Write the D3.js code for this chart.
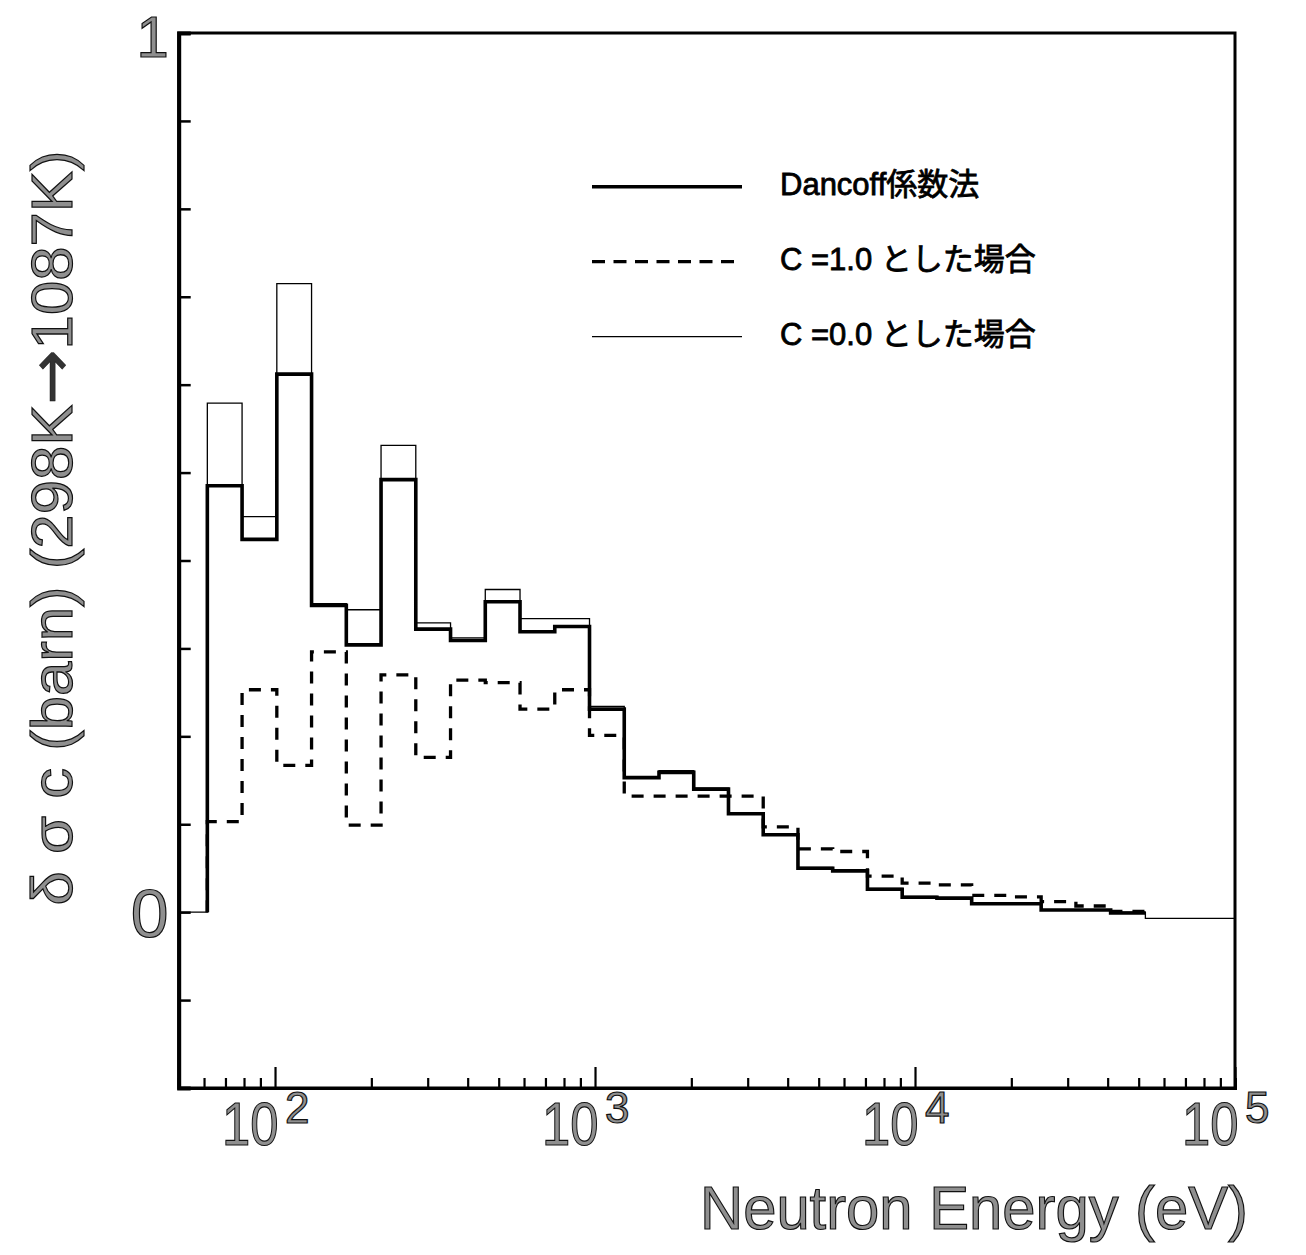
<!DOCTYPE html>
<html>
<head>
<meta charset="utf-8">
<script src="https://cdn.jsdelivr.net/npm/d3@7"></script>
<style>
  html, body { margin: 0; padding: 0; background: #fff; }
  svg { display: block; }
</style>
</head>
<body>
<svg id="chart" width="1306" height="1255"></svg>
<script>
// ---------- DATA ----------
// Energy group boundaries (eV), lethargy width 0.25; first bin starts at axis minimum 50 eV
const edges = [50, 61.44, 78.89, 101.30, 130.07, 167.02, 214.45, 275.36, 353.58, 454.00, 582.95,
  748.52, 961.12, 1234.1, 1584.6, 2034.7, 2612.6, 3354.6, 4307.4, 5530.8, 7101.7, 9118.8,
  11709, 15034, 19305, 24788, 31828, 40868, 52475, 67379, 86517, 100000];

// Dancoff factor method (thick solid)
const dancoff = [null, 0.485, 0.424, 0.612, 0.349, 0.304, 0.492, 0.322, 0.309, 0.353, 0.319,
  0.325, 0.231, 0.153, 0.159, 0.140, 0.112, 0.088, 0.050, 0.047, 0.026, 0.017, 0.016,
  0.0095, 0.0095, 0.0025, 0.0025, -0.001, null, null, null];

// C = 1.0 (dashed)
const c10 = [null, 0.103, 0.253, 0.167, 0.296, 0.099, 0.270, 0.176, 0.264, 0.261, 0.231,
  0.253, 0.201, 0.132, 0.132, 0.132, 0.132, 0.097, 0.072, 0.069, 0.041, 0.033, 0.031,
  0.019, 0.0175, 0.012, 0.007, 0.001, null, null, null];

// C = 0.0 (thin solid)
const c00 = [0, 0.579, 0.450, 0.715, 0.351, 0.344, 0.531, 0.329, 0.312, 0.367, 0.334,
  0.334, 0.234, 0.154, 0.161, 0.141, 0.113, 0.089, 0.051, 0.048, 0.027, 0.018, 0.016,
  0.010, 0.010, 0.003, 0.003, 0.000, -0.007, -0.007, -0.007];

const legendLabels = ["Dancoff係数法", "C =1.0 とした場合", "C =0.0 とした場合"];

const yTickValues = [-0.2, -0.1, 0, 0.1, 0.2, 0.3, 0.4, 0.5, 0.6, 0.7, 0.8, 0.9, 1.0];
const yLabeledTicks = [0, 1];
const xMajorTicks = [1e2, 1e3, 1e4, 1e5];
const xMajorBase = "10";
const xMajorExponents = ["2", "3", "4", "5"];
const xMinorTicks = [60, 70, 80, 90, 200, 300, 400, 500, 600, 700, 800, 900,
  2000, 3000, 4000, 5000, 6000, 7000, 8000, 9000,
  20000, 30000, 40000, 50000, 60000, 70000, 80000, 90000];

const xTitle = "Neutron Energy (eV)";
const yTitleParts = ["δ σ c (barn) (298K", "→", "1087K)"];

// ---------- CHART ----------
const svg = d3.select("#chart");
const L = 178.7, R = 1235, T = 33, B = 1088;
const x = d3.scaleLog().domain([50, 1e5]).range([L, R]);
const y = d3.scaleLinear().domain([-0.2, 1]).range([B, T]);

const fontLatin = "'Liberation Sans', Arial, Helvetica, sans-serif";
const fontLegend = "'Liberation Sans', Arial, 'Noto Sans CJK JP', sans-serif";
const labelFill = "#8f8f8f", labelStroke = "#111";

// frame
svg.append("rect")
  .attr("x", L).attr("y", T).attr("width", R - L).attr("height", B - T)
  .attr("fill", "none").attr("stroke", "#000").attr("stroke-width", 3);

// y axis (ticks inside)
const yAxis = d3.axisLeft(y).tickValues(yTickValues).tickSize(-12).tickPadding(10)
  .tickFormat(d => yLabeledTicks.some(v => Math.abs(v - d) < 1e-9) ? d3.format("d")(d) : "");
const gy = svg.append("g").attr("transform", `translate(${L},0)`).call(yAxis);
gy.select(".domain").attr("stroke-width", 4);
gy.selectAll(".tick line").attr("stroke-width", 2.5);
gy.selectAll(".tick text")
  .attr("font-family", fontLatin)
  .attr("font-size", d => Math.abs(d) < 1e-9 ? 68 : 58)
  .attr("fill", labelFill).attr("stroke", labelStroke).attr("stroke-width", 1.2)
  .attr("dy", d => Math.abs(d) < 1e-9 ? "0.36em" : "23px");

// x axis minor & major ticks (inside)
const gxMinor = svg.append("g").attr("transform", `translate(0,${B})`)
  .call(d3.axisBottom(x).tickValues(xMinorTicks).tickSize(-10).tickFormat(() => ""));
gxMinor.select(".domain").attr("stroke-width", 3);
gxMinor.selectAll(".tick line").attr("stroke-width", 2.2);
const gxMajor = svg.append("g").attr("transform", `translate(0,${B})`)
  .call(d3.axisBottom(x).tickValues(xMajorTicks).tickSize(-21).tickFormat(() => ""));
gxMajor.select(".domain").remove();
gxMajor.selectAll(".tick line").attr("stroke-width", 2.2);

// x major labels 10^n (base and exponent as separate texts)
const lbl = svg.append("g")
  .attr("font-family", fontLatin)
  .attr("fill", labelFill).attr("stroke", labelStroke).attr("stroke-width", 1.2);
lbl.selectAll("text.base").data(xMajorTicks).join("text")
  .attr("class", "base")
  .attr("transform", d => `translate(${x(d) - 53},1145) scale(0.82,1)`)
  .attr("font-size", 62)
  .text(xMajorBase);
lbl.selectAll("text.exp").data(xMajorTicks).join("text")
  .attr("class", "exp")
  .attr("x", d => x(d) + 10).attr("y", 1123)
  .attr("font-size", 44)
  .text((d, i) => xMajorExponents[i]);

// axis titles
svg.append("text")
  .attr("x", 700).attr("y", 1229)
  .attr("font-family", fontLatin).attr("font-size", 62)
  .attr("textLength", 548).attr("lengthAdjust", "spacingAndGlyphs")
  .attr("fill", labelFill).attr("stroke", labelStroke).attr("stroke-width", 1.2)
  .text(xTitle);

const yt = svg.append("text")
  .attr("transform", "translate(72,528) rotate(-90)")
  .attr("text-anchor", "middle")
  .attr("font-family", fontLatin).attr("font-size", 58)
  .attr("textLength", 755).attr("lengthAdjust", "spacingAndGlyphs")
  .attr("fill", labelFill).attr("stroke", labelStroke).attr("stroke-width", 1.2);
yt.append("tspan").text(yTitleParts[0]);
yt.append("tspan").attr("font-family", "'DejaVu Sans', sans-serif").attr("font-size", 62)
  .attr("fill", "#333").attr("stroke-width", 0.4).text(yTitleParts[1]);
yt.append("tspan").text(yTitleParts[2]);

// step curves
function stepPoints(vals) {
  let first = -1, last = -1;
  vals.forEach((v, i) => { if (v !== null) { if (first < 0) first = i; last = i; } });
  const pts = [[edges[first], 0]];
  for (let i = first; i <= last; i++) pts.push([edges[i], vals[i]]);
  pts.push([edges[last + 1], vals[last]]);
  return pts;
}
const line = d3.line().x(d => x(d[0])).y(d => y(d[1])).curve(d3.curveStepAfter);

const styles = [
  { vals: c00, width: 1.3, dash: null },
  { vals: c10, width: 3.3, dash: "12,10" },
  { vals: dancoff, width: 3.6, dash: null }
];
styles.forEach(s => {
  svg.append("path")
    .attr("d", line(stepPoints(s.vals)))
    .attr("fill", "none").attr("stroke", "#000")
    .attr("stroke-width", s.width)
    .attr("stroke-dasharray", s.dash)
    .attr("stroke-linejoin", "miter");
});

// legend
const legendStyles = [
  { width: 3.6, dash: null, ly: 186.7 },
  { width: 3.3, dash: "13,8.5", ly: 261.7 },
  { width: 1.3, dash: null, ly: 336.7 }
];
legendLabels.forEach((name, i) => {
  const st = legendStyles[i];
  svg.append("line")
    .attr("x1", 592).attr("x2", 742).attr("y1", st.ly).attr("y2", st.ly)
    .attr("stroke", "#000").attr("stroke-width", st.width)
    .attr("stroke-dasharray", st.dash);
  svg.append("text")
    .attr("x", 780).attr("y", st.ly + 8)
    .attr("font-family", fontLegend).attr("font-size", 31)
    .attr("fill", "#000").attr("stroke", "#000").attr("stroke-width", 0.8)
    .text(name);
});
</script>
</body>
</html>
